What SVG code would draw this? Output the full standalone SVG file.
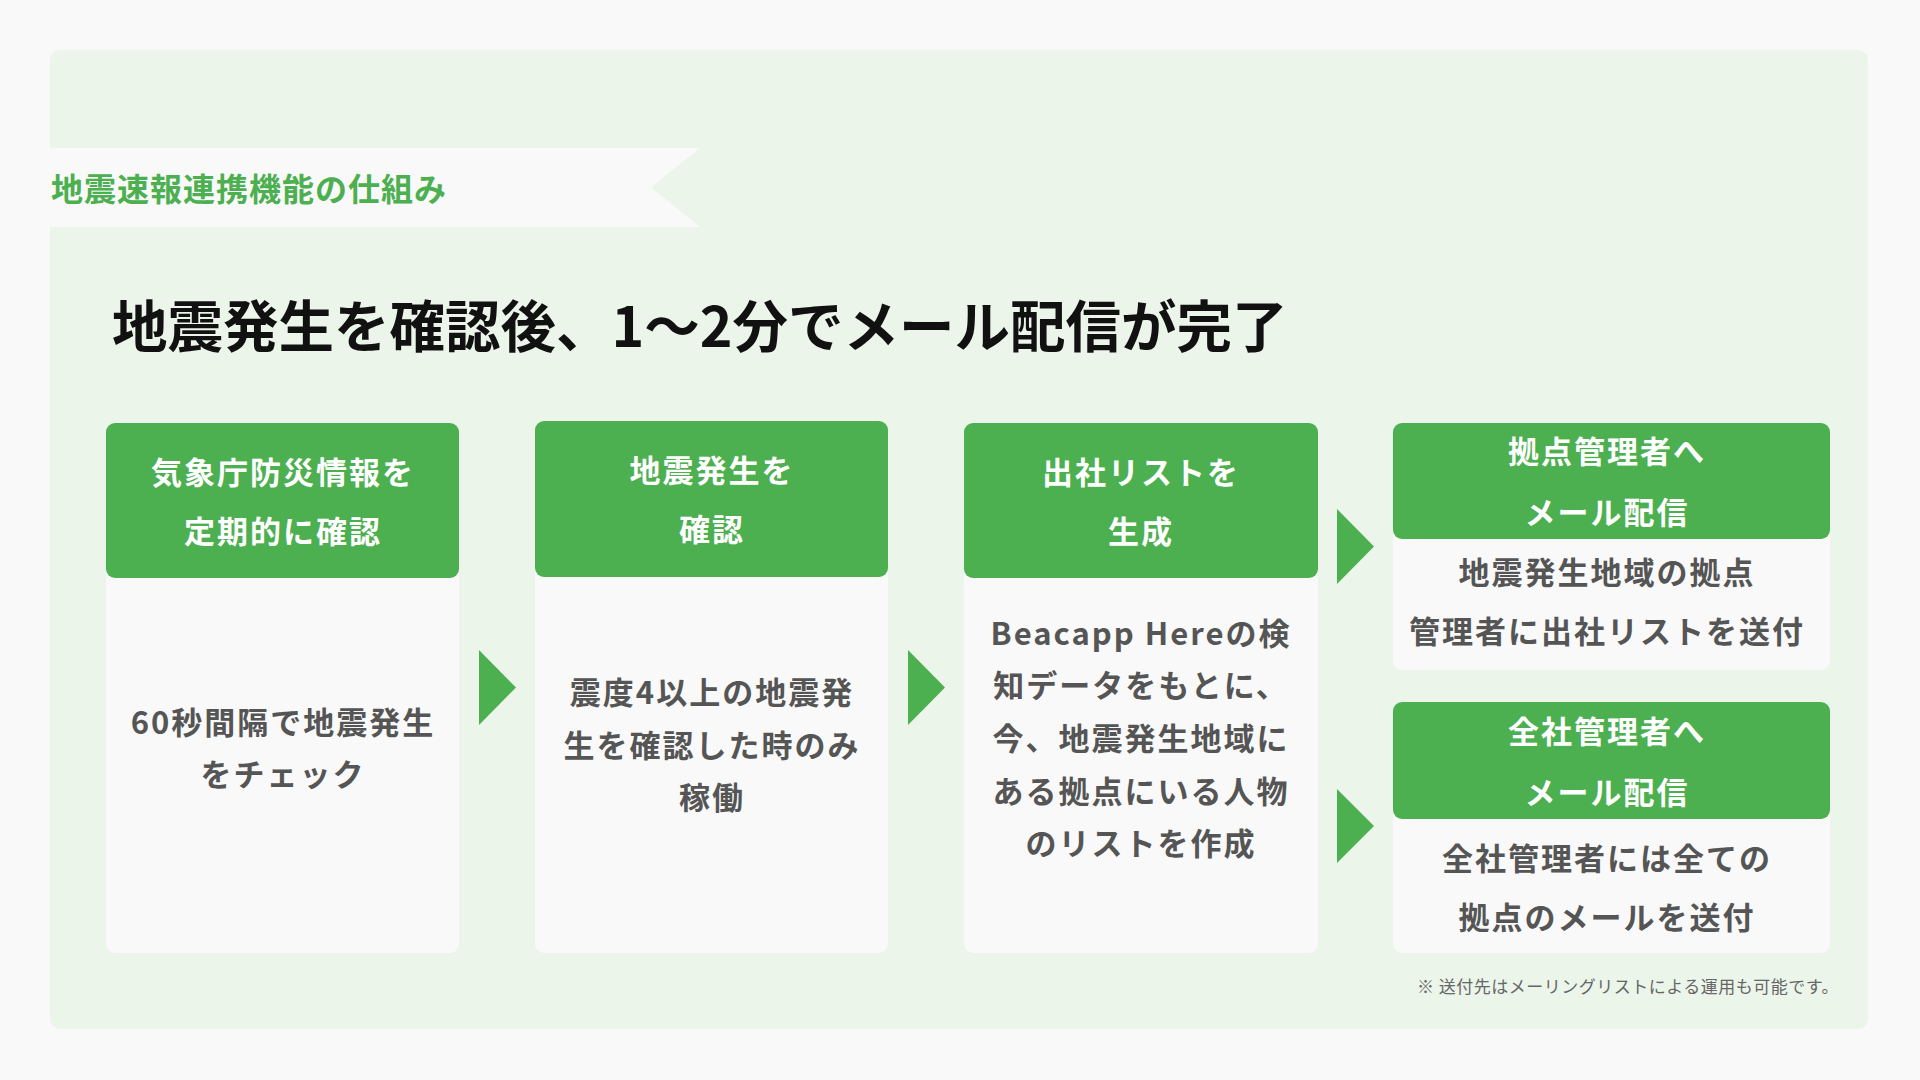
<svg xmlns="http://www.w3.org/2000/svg" width="1920" height="1080" viewBox="0 0 1920 1080">
<style>
text{font-family:"Noto Sans CJK JP","Noto Sans",sans-serif;}
.hd{fill:#4caf50;}
.bd{fill:#f9f9f9;}
.ht{fill:#ffffff;font-size:31px;font-weight:700;text-anchor:middle;letter-spacing:2px;}
.bt{fill:#555555;font-size:31px;font-weight:700;text-anchor:middle;letter-spacing:2px;}
.arr{fill:#4caf50;}
</style>
<rect x="0" y="0" width="1920" height="1080" fill="#f9f9f9"/>
<rect x="50" y="50" width="1818" height="979" rx="10" fill="#ebf5ea"/>
<g id="ribbon">
<polygon points="50,148 700,148 651,187.5 700,227 50,227" fill="#f9f9f9"/>
<text x="51" y="201" font-size="32" font-weight="700" fill="#4caf50" letter-spacing="1">地震速報連携機能の仕組み</text>
</g>
<text id="title" x="112" y="347" font-size="55.5" font-weight="700" fill="#111111">地震発生を確認後、1〜2分でメール配信が完了</text>
<g id="card1">
<rect class="bd" x="106" y="423" width="353" height="530" rx="9"/>
<rect class="hd" x="106" y="423" width="353" height="155" rx="9"/>
<text class="ht" x="283" y="484">気象庁防災情報を</text>
<text class="ht" x="283" y="543">定期的に確認</text>
<text class="bt" x="283" y="734">60秒間隔で地震発生</text>
<text class="bt" x="283" y="786">をチェック</text>
</g>
<g id="card2">
<rect class="bd" x="535" y="421" width="353" height="532" rx="9"/>
<rect class="hd" x="535" y="421" width="353" height="156" rx="9"/>
<text class="ht" x="712" y="482">地震発生を</text>
<text class="ht" x="712" y="541">確認</text>
<text class="bt" x="712" y="704">震度4以上の地震発</text>
<text class="bt" x="712" y="757">生を確認した時のみ</text>
<text class="bt" x="712" y="809">稼働</text>
</g>
<g id="card3">
<rect class="bd" x="964" y="423" width="354" height="530" rx="9"/>
<rect class="hd" x="964" y="423" width="354" height="155" rx="9"/>
<text class="ht" x="1141" y="484">出社リストを</text>
<text class="ht" x="1141" y="543">生成</text>
<text class="bt" x="1141" y="645">Beacapp Hereの検</text>
<text class="bt" x="1141" y="697">知データをもとに、</text>
<text class="bt" x="1141" y="750">今、地震発生地域に</text>
<text class="bt" x="1141" y="803">ある拠点にいる人物</text>
<text class="bt" x="1141" y="855">のリストを作成</text>
</g>
<g id="card4">
<rect class="bd" x="1393" y="423" width="437" height="247" rx="9"/>
<rect class="hd" x="1393" y="423" width="437" height="116" rx="9"/>
<text class="ht" x="1607" y="463">拠点管理者へ</text>
<text class="ht" x="1607" y="524">メール配信</text>
<text class="bt" x="1607" y="584">地震発生地域の拠点</text>
<text class="bt" x="1607" y="643">管理者に出社リストを送付</text>
</g>
<g id="card5">
<rect class="bd" x="1393" y="702" width="437" height="251" rx="9"/>
<rect class="hd" x="1393" y="702" width="437" height="117" rx="9"/>
<text class="ht" x="1607" y="743">全社管理者へ</text>
<text class="ht" x="1607" y="804">メール配信</text>
<text class="bt" x="1607" y="870">全社管理者には全ての</text>
<text class="bt" x="1607" y="929">拠点のメールを送付</text>
</g>
<g id="connectors">
<polygon class="arr" points="479,650 516,687.5 479,725"/>
<polygon class="arr" points="908,650 945,687.5 908,725"/>
<polygon class="arr" points="1337,509 1374,546.5 1337,584"/>
<polygon class="arr" points="1337,789 1374,826 1337,863"/>
</g>
<text id="note" x="1417" y="993" font-size="17" fill="#666666" letter-spacing="0.5">※ 送付先はメーリングリストによる運用も可能です。</text>
</svg>
